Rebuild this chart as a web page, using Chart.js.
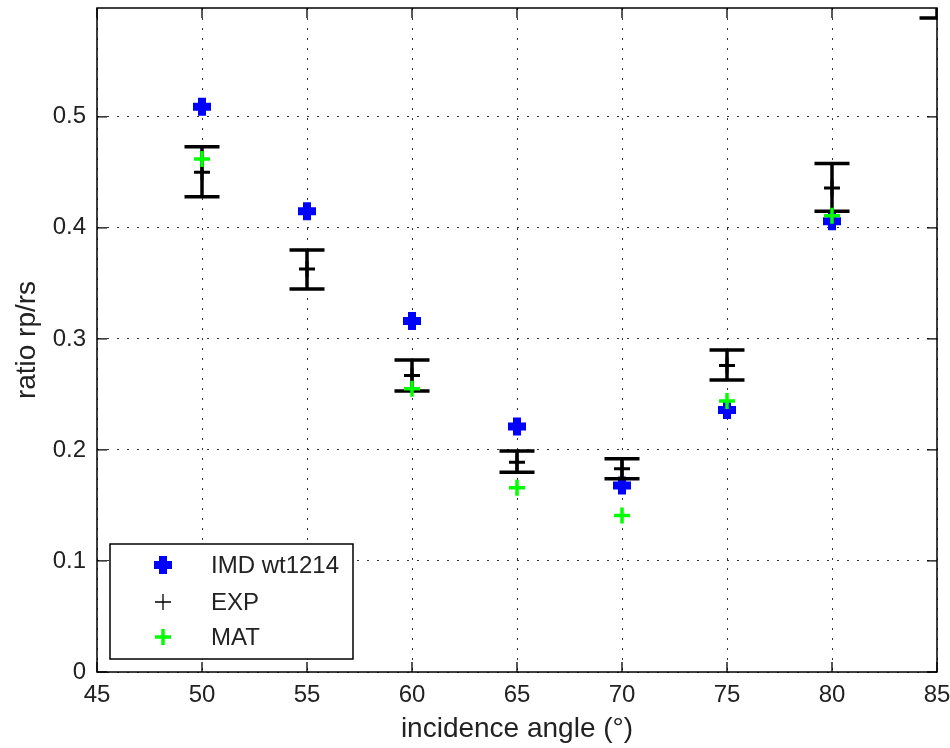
<!DOCTYPE html>
<html><head><meta charset="utf-8">
<script src="https://cdn.jsdelivr.net/npm/chart.js@4/dist/chart.umd.min.js"></script>
<style>html,body{margin:0;padding:0;background:#fff}#wrap{width:950px;height:748px;position:relative}</style>
</head><body><div id="wrap"><canvas id="c"></canvas></div>
<script>
// ---- data ----
const angles    = [50, 55, 60, 65, 70, 75, 80, 85];
const imdValues = [0.509, 0.415, 0.316, 0.221, 0.168, 0.236, 0.406, null];
const expValues = [0.450, 0.363, 0.267, 0.189, 0.183, 0.276, 0.436, 0.612];
const expLower  = [0.428, 0.345, 0.253, 0.180, 0.174, 0.263, 0.415, 0.589];
const expUpper  = [0.473, 0.380, 0.281, 0.199, 0.192, 0.290, 0.458, 0.635];
const matValues = [0.462, null, 0.255, 0.166, 0.141, 0.244, 0.411, null];
const xTicks = [45, 50, 55, 60, 65, 70, 75, 80, 85];
const yTicks = [0, 0.1, 0.2, 0.3, 0.4, 0.5];
const seriesNames = ['IMD wt1214', 'EXP', 'MAT'];
const xTitle = 'incidence angle (°)';
const yTitle = 'ratio rp/rs';

const toPts = vals => angles.map((a, i) => vals[i] == null ? null : {x: a, y: vals[i]}).filter(p => p);

Chart.defaults.font.family = '"Liberation Sans", Arial, Helvetica, sans-serif';
Chart.defaults.color = '#222';

const styles = {
  imd: {color: '#0000ff', radius: 9, width: 8},
  exp: {color: '#000000', radius: 8, width: 3},
  mat: {color: '#00ff00', radius: 8, width: 3.5}
};

const errorBars = {
  id: 'errorBars',
  afterDatasetDraw(chart, args) {
    if (chart.data.datasets[args.index].label !== seriesNames[1]) return;
    const {ctx, chartArea: a, scales: {x, y}} = chart;
    ctx.save();
    ctx.beginPath(); ctx.rect(a.left, a.top, a.right - a.left, a.bottom - a.top); ctx.clip();
    ctx.strokeStyle = '#000'; ctx.lineWidth = 3.5; ctx.lineCap = 'butt';
    angles.forEach((ang, i) => {
      if (expLower[i] == null) return;
      const px = x.getPixelForValue(ang);
      const lo = y.getPixelForValue(expLower[i]), hi = y.getPixelForValue(expUpper[i]);
      ctx.beginPath();
      ctx.moveTo(px, lo); ctx.lineTo(px, hi);
      ctx.moveTo(px - 17.5, lo); ctx.lineTo(px + 17.5, lo);
      ctx.moveTo(px - 17.5, hi); ctx.lineTo(px + 17.5, hi);
      ctx.stroke();
    });
    ctx.restore();
  }
};

const frame = {
  id: 'frame',
  afterDatasetsDraw(chart) {
    const {ctx, chartArea: a, scales: {x, y}} = chart;
    ctx.save();
    ctx.strokeStyle = '#000'; ctx.lineWidth = 1.5;
    ctx.strokeRect(a.left, a.top, a.right - a.left, a.bottom - a.top);
    ctx.beginPath();
    const L = 10;
    xTicks.forEach(v => {
      const px = x.getPixelForValue(v);
      ctx.moveTo(px, a.bottom); ctx.lineTo(px, a.bottom - L);
      ctx.moveTo(px, a.top); ctx.lineTo(px, a.top + L);
    });
    yTicks.forEach(v => {
      const py = y.getPixelForValue(v);
      ctx.moveTo(a.left, py); ctx.lineTo(a.left + L, py);
      ctx.moveTo(a.right, py); ctx.lineTo(a.right - L, py);
    });
    ctx.lineWidth = 1.3;
    ctx.stroke();
    ctx.restore();
  }
};

function drawCross(ctx, cx, cy, r, w, color) {
  ctx.save();
  ctx.strokeStyle = color; ctx.lineWidth = w; ctx.lineCap = 'butt';
  ctx.beginPath();
  ctx.moveTo(cx - r, cy); ctx.lineTo(cx + r, cy);
  ctx.moveTo(cx, cy - r); ctx.lineTo(cx, cy + r);
  ctx.stroke();
  ctx.restore();
}

const boxLegend = {
  id: 'boxLegend',
  afterDraw(chart) {
    const ctx = chart.ctx;
    const bx = 110, by = 544, bw = 243, bh = 115;
    ctx.save();
    ctx.fillStyle = '#fff';
    ctx.fillRect(bx, by, bw, bh);
    ctx.strokeStyle = '#000'; ctx.lineWidth = 1.5;
    ctx.strokeRect(bx, by, bw, bh);
    const rows = [565, 602, 637];
    drawCross(ctx, 163, rows[0], 9, 8, styles.imd.color);
    drawCross(ctx, 163, rows[1], 8, 1.3, styles.exp.color);
    drawCross(ctx, 163, rows[2], 8, 3.5, styles.mat.color);
    ctx.fillStyle = '#222';
    ctx.font = '24px "Liberation Sans", Arial, sans-serif';
    ctx.textBaseline = 'middle'; ctx.textAlign = 'left';
    seriesNames.forEach((n, i) => ctx.fillText(n, 211, rows[i] + 1));
    ctx.restore();
  }
};

const gridStyle = {color: '#333', lineWidth: 1, drawTicks: false};

new Chart(document.getElementById('c'), {
  type: 'scatter',
  data: {
    datasets: [
      {label: seriesNames[2], data: toPts(matValues), pointStyle: 'cross',
       pointRadius: styles.mat.radius, pointBorderWidth: styles.mat.width,
       borderColor: styles.mat.color, backgroundColor: styles.mat.color, clip: 0},
      {label: seriesNames[1], data: toPts(expValues), pointStyle: 'cross',
       pointRadius: styles.exp.radius, pointBorderWidth: styles.exp.width,
       borderColor: styles.exp.color, backgroundColor: styles.exp.color, clip: 0},
      {label: seriesNames[0], data: toPts(imdValues), pointStyle: 'cross',
       pointRadius: styles.imd.radius, pointBorderWidth: styles.imd.width,
       borderColor: styles.imd.color, backgroundColor: styles.imd.color, clip: 0}
    ]
  },
  options: {
    responsive: true, maintainAspectRatio: false, animation: false,
    layout: {autoPadding: false, padding: {left: 0, top: 8, right: 13, bottom: 0}},
    plugins: {legend: {display: false}, tooltip: {enabled: false}},
    elements: {point: {hoverRadius: 8}},
    scales: {
      x: {
        type: 'linear', min: 45, max: 85,
        afterBuildTicks: s => { s.ticks = xTicks.map(v => ({value: v})); },
        afterFit: s => { s.height = 76; s.paddingLeft = 0; s.paddingRight = 0; s.paddingTop = 0; s.paddingBottom = 0; },
        grid: gridStyle,
        border: {display: false, dash: [2, 8]},
        ticks: {padding: 9, font: {size: 24}, color: '#222', maxRotation: 0, callback: v => String(v)},
        title: {display: true, text: xTitle, font: {size: 28}, color: '#222', padding: {top: 0, bottom: 2}}
      },
      y: {
        type: 'linear', min: 0, max: 0.598,
        afterBuildTicks: s => { s.ticks = yTicks.map(v => ({value: v})); },
        afterFit: s => { s.width = 97; s.paddingLeft = 0; s.paddingRight = 0; s.paddingTop = 0; s.paddingBottom = 0; },
        grid: gridStyle,
        border: {display: false, dash: [2, 8]},
        ticks: {padding: 11, font: {size: 24}, color: '#222', callback: v => String(Math.round(v * 10) / 10)},
        title: {display: true, text: yTitle, font: {size: 28}, color: '#222', padding: {top: 10, bottom: 0}}
      }
    }
  },
  plugins: [errorBars, frame, boxLegend]
});
</script>
</body></html>
